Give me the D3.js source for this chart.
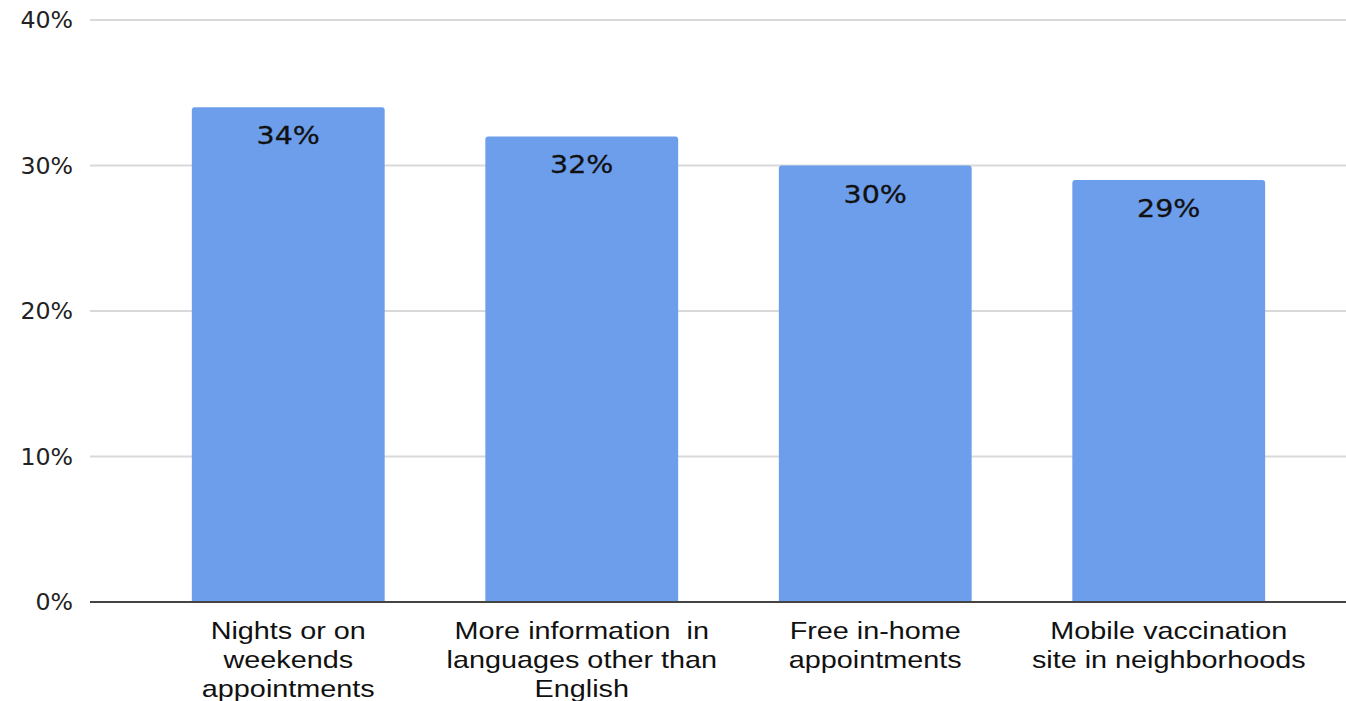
<!DOCTYPE html>
<html><head><meta charset="utf-8">
<script src="https://cdn.jsdelivr.net/npm/d3@7"></script>
<style>html,body{margin:0;padding:0;background:#fff;}</style>
</head><body>
<svg id="chart" width="1346" height="701"></svg>
<script>
const categories = [
  ["Nights or on", "weekends", "appointments"],
  ["More information  in", "languages other than", "English"],
  ["Free in-home", "appointments"],
  ["Mobile vaccination", "site in neighborhoods"]
];
const values = [34, 32, 30, 29];
const valueLabels = ["34%", "32%", "30%", "29%"];
const yTicks = [0, 10, 20, 30, 40];
const yTickLabels = ["0%", "10%", "20%", "30%", "40%"];

const svg = d3.select("#chart");
const W = 1346;
const y = d3.scaleLinear().domain([0, 40]).range([602, 20]);
const x = d3.scaleBand().domain(d3.range(values.length)).range([90, 1367]).paddingInner(0.343).paddingOuter(0.347);

// gridlines
svg.append("g").selectAll("line").data(yTicks.filter(d => d > 0)).join("line")
  .attr("x1", 90).attr("x2", W).attr("y1", d => y(d)).attr("y2", d => y(d))
  .attr("stroke", "#d9d9d9").attr("stroke-width", 2);

// tick labels
svg.append("g").selectAll("text").data(yTicks).join("text")
  .attr("transform", d => `translate(73,${y(d) + 8}) scale(1.03,1)`)
  .attr("text-anchor", "end")
  .attr("font-family", "DejaVu Sans").attr("font-size", 23).attr("fill", "#222")
  .text((d, i) => yTickLabels[i]);

// bars with small rounded top corners
const r = 3;
svg.append("g").selectAll("path").data(values).join("path")
  .attr("d", (d, i) => {
    const x0 = x(i), x1 = x(i) + x.bandwidth(), yt = y(d), yb = y(0);
    return `M${x0},${yb}V${yt + r}Q${x0},${yt} ${x0 + r},${yt}H${x1 - r}Q${x1},${yt} ${x1},${yt + r}V${yb}Z`;
  })
  .attr("fill", "#6d9eeb");

// baseline
svg.append("line").attr("x1", 90).attr("x2", W).attr("y1", y(0)).attr("y2", y(0))
  .attr("stroke", "#444").attr("stroke-width", 2);

// value labels
svg.append("g").selectAll("text").data(values).join("text")
  .attr("transform", (d, i) => `translate(${x(i) + x.bandwidth() / 2},${y(d) + 37}) scale(1.14,1)`)
  .attr("text-anchor", "middle")
  .attr("font-family", "DejaVu Sans").attr("font-size", 25).attr("fill", "#111")
  .attr("stroke", "#111").attr("stroke-width", 0.3)
  .text((d, i) => valueLabels[i]);

// category labels
const cg = svg.append("g");
categories.forEach((lines, i) => {
  lines.forEach((ln, j) => {
    cg.append("text")
      .attr("transform", `translate(${x(i) + x.bandwidth() / 2},${639 + j * 29}) scale(1.2,1)`)
      .attr("text-anchor", "middle")
      .attr("font-family", "Liberation Sans").attr("font-size", 24).attr("fill", "#111")
      .attr("xml:space", "preserve").style("white-space", "pre")
      .text(ln);
  });
});
</script>
</body></html>
